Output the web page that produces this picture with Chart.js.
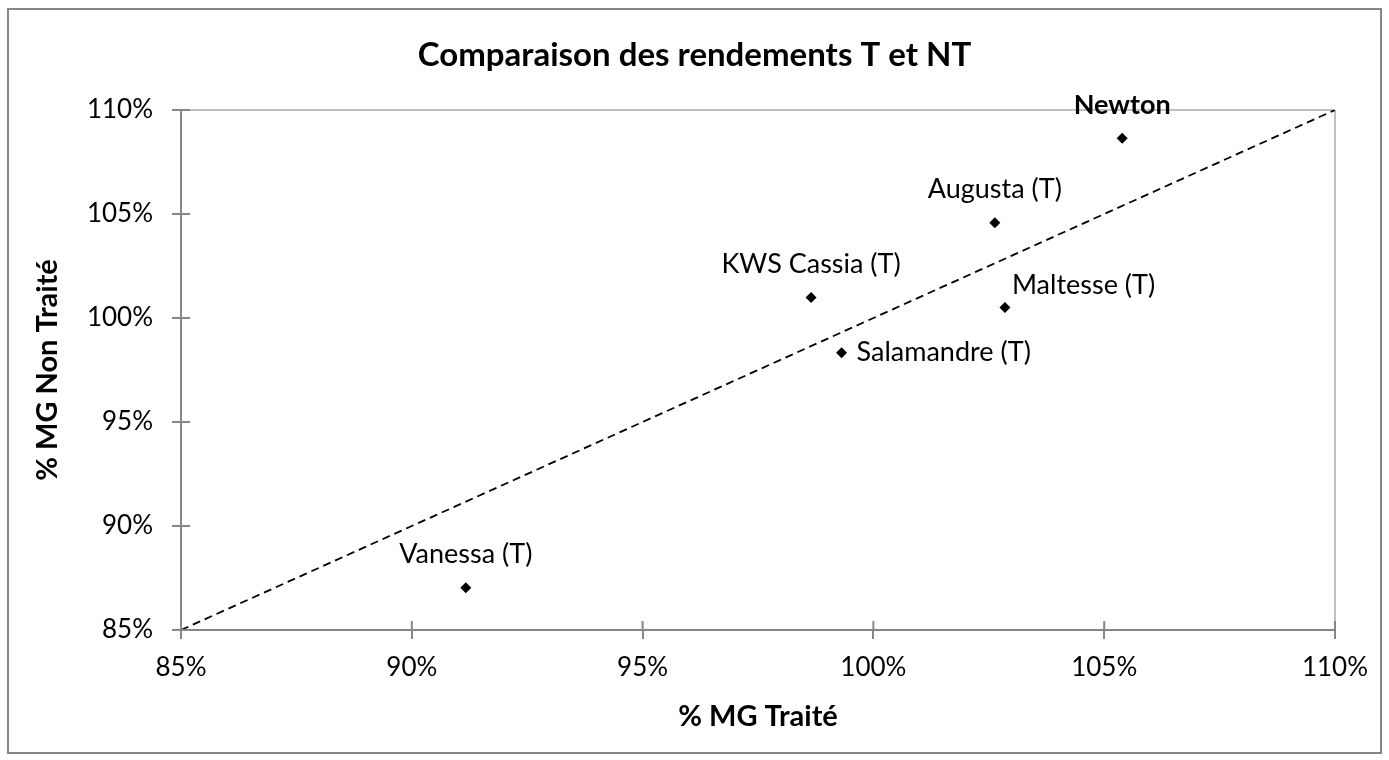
<!DOCTYPE html>
<html lang="fr">
<head>
    <meta charset="UTF-8">
    <title>Comparaison des rendements T et NT</title>
    <script src="https://cdn.jsdelivr.net/npm/chart.js"></script>
    <style>
        html, body { margin: 0; padding: 0; background: #fff; }
        .cadre {
            position: absolute; left: 7px; top: 8px; width: 1371px; height: 742px;
            border: 2px solid #868686;
        }
        .zone { position: absolute; left: 0; top: 0; width: 1389px; height: 760px; }
    </style>
</head>
<body>
    <div class="cadre"></div>
    <div class="zone"><canvas id="graficoRendements"></canvas></div>

<script>
    // Variétés et rendements (% de la moyenne générale)
    const varietes = ['Vanessa (T)', 'KWS Cassia (T)', 'Salamandre (T)', 'Augusta (T)', 'Maltesse (T)', 'Newton'];
    const mgTraite = [91.17, 98.65, 99.31, 102.63, 102.85, 105.39];
    const mgNonTraite = [87.03, 100.98, 98.33, 104.58, 100.50, 108.64];
    // position de l'étiquette autour du point
    const positionEtiquette = ['dessus', 'dessus', 'droite', 'dessus', 'dessusDroite', 'dessus'];
    const ligneEgalite = [85, 110];
    const graduations = [85, 90, 95, 100, 105, 110];

    const police = 'Lato, "Open Sans", sans-serif';
    const gris = '#868686';

    // étiquettes des points + petites graduations côté intérieur
    const pluginEtiquettes = {
        id: 'etiquettes',
        afterDatasetsDraw(chart) {
            const ctx = chart.ctx;
            const meta = chart.getDatasetMeta(1);
            ctx.save();
            ctx.fillStyle = '#000';
            meta.data.forEach((pt, i) => {
                const gras = varietes[i] === 'Newton';
                ctx.font = (gras ? 'bold ' : '') + '27px ' + police;
                ctx.textBaseline = 'middle';
                const pos = positionEtiquette[i];
                if (pos === 'dessus') {
                    ctx.textAlign = 'center';
                    ctx.fillText(varietes[i], pt.x, pt.y - 33);
                } else if (pos === 'droite') {
                    ctx.textAlign = 'left';
                    ctx.fillText(varietes[i], pt.x + 15, pt.y);
                } else {
                    ctx.textAlign = 'left';
                    ctx.fillText(varietes[i], pt.x + 7, pt.y - 22);
                }
            });
            // moitié intérieure des graduations (croisées)
            const sx = chart.scales.x, sy = chart.scales.y;
            ctx.strokeStyle = gris;
            ctx.lineWidth = 2;
            graduations.forEach(v => {
                const px = sx.getPixelForValue(v);
                ctx.beginPath();
                ctx.moveTo(px, sy.bottom);
                ctx.lineTo(px, sy.bottom - 9);
                ctx.stroke();
                const py = sy.getPixelForValue(v);
                ctx.beginPath();
                ctx.moveTo(sx.left, py);
                ctx.lineTo(sx.left + 9, py);
                ctx.stroke();
            });
            ctx.restore();
        }
    };

    const grille = {
        color: (c) => (c.tick && c.tick.value === 110 ? '#c0c0c0' : 'transparent'),
        lineWidth: 2,
        tickColor: gris,
        tickLength: 9,
        drawTicks: true
    };

    new Chart(document.getElementById('graficoRendements'), {
        type: 'scatter',
        data: {
            datasets: [{
                type: 'line',
                data: ligneEgalite.map(v => ({ x: v, y: v })),
                borderColor: '#000',
                borderWidth: 1.8,
                borderDash: [8, 5],
                pointRadius: 0,
                fill: false
            }, {
                data: mgTraite.map((v, i) => ({ x: v, y: mgNonTraite[i] })),
                pointStyle: 'rectRot',
                pointRadius: 5.5,
                pointBackgroundColor: '#000',
                pointBorderColor: '#000',
                pointBorderWidth: 0
            }]
        },
        options: {
            responsive: true,
            maintainAspectRatio: false,
            animation: false,
            layout: { padding: 0 },
            plugins: {
                legend: { display: false },
                tooltip: { enabled: false },
                title: {
                    display: true,
                    text: 'Comparaison des rendements T et NT',
                    color: '#000',
                    font: { family: police, size: 33, weight: 'bold' },
                    padding: { top: 35.2, bottom: 35.2 }
                }
            },
            scales: {
                x: {
                    type: 'linear',
                    min: 85, max: 110,
                    afterFit: (s) => { s.height = 130; },
                    grid: grille,
                    border: { color: gris, width: 2 },
                    ticks: {
                        stepSize: 5,
                        padding: 13,
                        color: '#000',
                        font: { family: police, size: 26 },
                        callback: (v) => v + '%'
                    },
                    title: {
                        display: true,
                        text: '% MG Traité',
                        color: '#000',
                        font: { family: police, size: 29, weight: 'bold' },
                        padding: { top: 0, bottom: 25.6 }
                    }
                },
                y: {
                    type: 'linear',
                    min: 85, max: 110,
                    afterFit: (s) => { s.width = 181; },
                    grid: grille,
                    border: { color: gris, width: 2 },
                    ticks: {
                        stepSize: 5,
                        padding: 19,
                        color: '#000',
                        font: { family: police, size: 26 },
                        callback: (v) => v + '%'
                    },
                    title: {
                        display: true,
                        text: '% MG Non Traité',
                        color: '#000',
                        font: { family: police, size: 29, weight: 'bold' },
                        padding: { top: 30.6, bottom: 0 }
                    }
                },
                // marge droite vide
                marge: {
                    type: 'linear',
                    position: 'right',
                    afterFit: (s) => { s.width = 54; },
                    grid: { display: false },
                    border: { display: false },
                    ticks: { display: false }
                }
            }
        },
        plugins: [pluginEtiquettes]
    });
</script>
</body>
</html>
